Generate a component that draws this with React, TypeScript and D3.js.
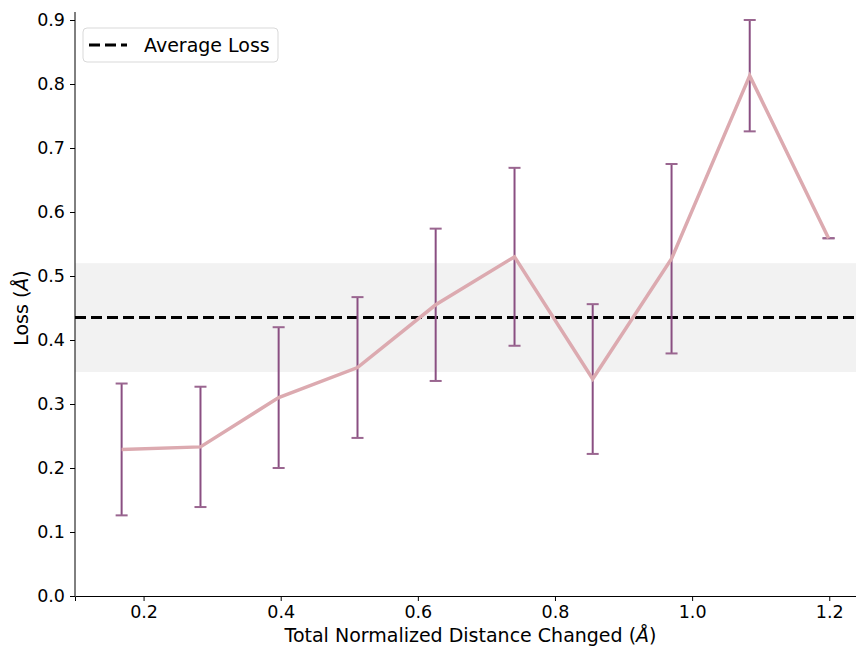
import React, { useEffect, useRef } from "react";
import * as d3 from "d3";

const distances = [0.168, 0.283, 0.397, 0.512, 0.626, 0.741, 0.855, 0.97, 1.084, 1.199];
const meanLoss = [0.229, 0.233, 0.31, 0.357, 0.455, 0.53, 0.339, 0.527, 0.813, 0.559];
const lossErr = [0.103, 0.094, 0.11, 0.11, 0.119, 0.139, 0.117, 0.148, 0.087, 0];
const xTicks = [0.2, 0.4, 0.6, 0.8, 1.0, 1.2];
const yTicks = [0, 0.1, 0.2, 0.3, 0.4, 0.5, 0.6, 0.7, 0.8, 0.9];
const avgLoss = 0.435;
const avgBand = [0.35, 0.52];

const W = 856;
const H = 650;
const FONT = "DejaVu Sans, sans-serif";

export default function App() {
  const svgRef = useRef<SVGSVGElement>(null);

  useEffect(() => {
    if (!svgRef.current) return;
    const svg = d3.select(svgRef.current);
    svg.selectAll("*").remove();

    const left = 75;
    const right = 856;
    const top = 20;
    const bottom = 596;

    const x = d3.scaleLinear().domain([0.1, 1.239]).range([left, right]);
    const y = d3.scaleLinear().domain([0, 0.9]).range([bottom, top]);

    // std band around the average
    svg.append("rect")
      .attr("x", left)
      .attr("y", y(avgBand[1]))
      .attr("width", right - left)
      .attr("height", y(avgBand[0]) - y(avgBand[1]))
      .attr("fill", "#f2f2f2");

    // average line
    svg.append("line")
      .attr("x1", left).attr("x2", right)
      .attr("y1", y(avgLoss)).attr("y2", y(avgLoss))
      .attr("stroke", "#000")
      .attr("stroke-width", 3)
      .attr("stroke-dasharray", "11,5");

    const pts = distances.map((d, i) => ({ x: d, y: meanLoss[i], e: lossErr[i] }));

    // error bars
    const eb = svg.append("g");
    pts.forEach(p => {
      eb.append("line")
        .attr("x1", x(p.x)).attr("x2", x(p.x))
        .attr("y1", y(p.y - p.e)).attr("y2", y(p.y + p.e))
        .attr("stroke", "#8a4f82")
        .attr("stroke-width", 2);
      [p.y - p.e, p.y + p.e].forEach(v => {
        eb.append("line")
          .attr("x1", x(p.x) - 6).attr("x2", x(p.x) + 6)
          .attr("y1", y(v)).attr("y2", y(v))
          .attr("stroke", "#9a6690")
          .attr("stroke-width", 2);
      });
    });

    // mean line
    const line = d3.line<{ x: number; y: number }>()
      .x(d => x(d.x))
      .y(d => y(d.y));
    svg.append("path")
      .datum(pts)
      .attr("d", line)
      .attr("fill", "none")
      .attr("stroke", "#dcaab0")
      .attr("stroke-width", 3.5)
      .attr("stroke-linejoin", "miter");

    // axes
    const xAxis = svg.append("g")
      .attr("transform", `translate(0,${bottom})`)
      .call(d3.axisBottom(x).tickValues(xTicks).tickFormat(d3.format(".1f")).tickSizeOuter(0).tickSize(5).tickPadding(5));
    const yAxis = svg.append("g")
      .attr("transform", `translate(${left},0)`)
      .call(d3.axisLeft(y).tickValues(yTicks).tickFormat(d3.format(".1f")).tickSizeOuter(0).tickSize(5).tickPadding(5));
    [xAxis, yAxis].forEach(a => {
      a.selectAll("text").attr("font-family", FONT).attr("font-size", 17.5).attr("fill", "#000");
      a.selectAll("line").attr("stroke", "#000").attr("stroke-width", 1);
      a.select(".domain").attr("stroke", "#000").attr("stroke-width", 1);
    });
    yAxis.select(".domain").attr("d", `M0,${bottom}V${top - 8}`);

    const xl = svg.append("text")
      .attr("x", (left + right) / 2 + 5)
      .attr("y", 642)
      .attr("text-anchor", "middle")
      .attr("font-family", FONT)
      .attr("font-size", 19);
    xl.append("tspan").text("Total Normalized Distance Changed (");
    xl.append("tspan").attr("font-style", "italic").text("Å");
    xl.append("tspan").text(")");

    const yl = svg.append("text")
      .attr("transform", `translate(28,${(top + bottom) / 2}) rotate(-90)`)
      .attr("text-anchor", "middle")
      .attr("font-family", FONT)
      .attr("font-size", 19);
    yl.append("tspan").text("Loss (");
    yl.append("tspan").attr("font-style", "italic").text("Å");
    yl.append("tspan").text(")");

    // legend
    const lg = svg.append("g").attr("transform", "translate(83,28)");
    lg.append("rect")
      .attr("width", 195).attr("height", 34)
      .attr("rx", 4)
      .attr("fill", "#fff").attr("fill-opacity", 0.8)
      .attr("stroke", "#d9d9d9");
    lg.append("line")
      .attr("x1", 6).attr("x2", 44)
      .attr("y1", 17).attr("y2", 17)
      .attr("stroke", "#000").attr("stroke-width", 3)
      .attr("stroke-dasharray", "11,5");
    lg.append("text")
      .attr("x", 61).attr("y", 23.5)
      .attr("font-family", FONT)
      .attr("font-size", 19)
      .text("Average Loss");
  }, []);

  return (
    <div style={{ position: "absolute", left: 0, top: 0 }}>
      <svg ref={svgRef} width={W} height={H} style={{ display: "block", background: "#fff" }} />
    </div>
  );
}
